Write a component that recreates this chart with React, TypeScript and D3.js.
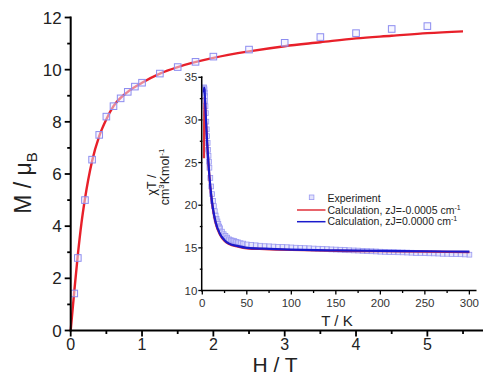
import React from 'react';
import * as d3 from 'd3';

// main plot: magnetization vs field
const fieldExp = [0.05, 0.1, 0.2, 0.3, 0.4, 0.5, 0.6, 0.7, 0.8, 0.9, 1.0, 1.25, 1.5, 1.75, 2.0, 2.5, 3.0, 3.5, 4.0, 4.5, 5.0];
const magExp = [1.42, 2.78, 5.0, 6.55, 7.5, 8.2, 8.6, 8.9, 9.15, 9.35, 9.5, 9.85, 10.1, 10.3, 10.5, 10.77, 11.03, 11.25, 11.4, 11.56, 11.67];
const fieldCalc = [0, 0.05, 0.1, 0.15, 0.2, 0.3, 0.4, 0.5, 0.6, 0.8, 1.0, 1.25, 1.5, 2.0, 2.5, 3.0, 3.5, 4.0, 4.5, 5.0, 5.5];
const magCalc = [0, 1.5, 2.9, 4.1, 5.05, 6.5, 7.45, 8.1, 8.6, 9.15, 9.5, 9.85, 10.1, 10.45, 10.7, 10.9, 11.05, 11.2, 11.3, 11.4, 11.47];
const hTicks = [0, 1, 2, 3, 4, 5];
const mTicks = [0, 2, 4, 6, 8, 10, 12];

// inset: chiT vs T
const tempExp = [1.8, 2, 2.2, 2.5, 2.8, 3, 3.3, 3.6, 4, 4.5, 5, 5.5, 6, 6.5, 7, 7.5, 8, 9, 10, 11, 12, 13, 14, 15, 16, 17, 18, 19, 20,
  22, 24, 26, 28, 30, 32, 34, 36, 38, 40, 43, 46, 50, 55, 60, 65, 70, 75, 80, 85, 90, 95, 100, 105, 110, 115, 120, 125, 130,
  135, 140, 145, 150, 155, 160, 165, 170, 175, 180, 185, 190, 195, 200, 205, 210, 215, 220, 225, 230, 235, 240, 245, 250,
  255, 260, 265, 270, 275, 280, 285, 290, 295, 300];
const chiTExp = [33.5, 33.8, 33.8, 33.6, 33.2, 32.8, 32.2, 31.6, 30.8, 29.8, 28.9, 28.1, 27.3, 26.5, 25.8, 25.1, 24.4, 23.2, 22.2,
  21.3, 20.5, 19.9, 19.3, 18.8, 18.4, 18.1, 17.8, 17.5, 17.3, 16.9, 16.6, 16.4, 16.2, 16.0, 15.9, 15.85, 15.8, 15.7, 15.65,
  15.55, 15.5, 15.4, 15.35, 15.3, 15.25, 15.2, 15.18, 15.15, 15.12, 15.1, 15.08, 15.05, 15.02, 15.0, 14.97, 14.95, 14.92,
  14.9, 14.88, 14.85, 14.82, 14.8, 14.78, 14.75, 14.72, 14.7, 14.68, 14.65, 14.62, 14.6, 14.58, 14.55, 14.53, 14.5, 14.5,
  14.48, 14.47, 14.45, 14.43, 14.4, 14.4, 14.38, 14.36, 14.35, 14.33, 14.3, 14.3, 14.28, 14.27, 14.25, 14.23, 14.2];
const tempCalc = [1.8, 2, 2.5, 3, 4, 5, 6, 7, 8, 10, 12, 15, 20, 25, 30, 40, 50, 70, 100, 150, 200, 250, 300];
const chiTCalcA = [25.5, 28.8, 32.8, 32.3, 30.2, 28.1, 26.3, 24.7, 23.3, 21.1, 19.5, 17.9, 16.5, 15.8, 15.45, 15.15, 14.95, 14.85, 14.75, 14.65, 14.6, 14.55, 14.5];
const chiTCalcB = [33.2, 33.8, 33.6, 32.5, 30.3, 28.2, 26.4, 24.8, 23.4, 21.2, 19.6, 18.0, 16.6, 15.9, 15.5, 15.2, 15.0, 14.9, 14.8, 14.7, 14.65, 14.6, 14.55];
const tTicks = [0, 50, 100, 150, 200, 250, 300];
const chiTicks = [10, 15, 20, 25, 30, 35];

const FONT = 'Liberation Sans, Arial, sans-serif';

export default function App() {
  const W = 484, H = 377;
  // main scales
  const x = d3.scaleLinear().domain([0, 5.78]).range([70.7, 483]);
  const y = d3.scaleLinear().domain([0, 12]).range([330.5, 17.5]);
  // inset scales
  const ix = d3.scaleLinear().domain([0, 308]).range([202.3, 476.5]);
  const iy = d3.scaleLinear().domain([10, 35]).range([290.5, 77.3]);

  const mainLine = d3.line<number>()
    .x((d, i) => x(fieldCalc[i]))
    .y(d => y(d))
    .curve(d3.curveMonotoneX);
  const insetLine = d3.line<number>()
    .x((d, i) => ix(tempCalc[i]))
    .y(d => iy(d))
    .curve(d3.curveMonotoneX);

  const x0 = x(0), y0 = y(0);
  const ix0 = ix(0), iy0 = iy(10);

  return (
    <div style={{ position: 'absolute', left: 0, top: 0 }}>
      <svg width={W} height={H} style={{ display: 'block', background: '#fff' }} fontFamily={FONT}>
        {/* main curve and points */}
        <path d={mainLine(magCalc) || ''} fill="none" stroke="#e8202a" strokeWidth={2.4} />
        {fieldExp.map((h, i) => (
          <rect key={'me' + i} x={x(h) - 3.3} y={y(magExp[i]) - 3.3} width={6.6} height={6.6}
            fill="#eeeeff" fillOpacity={0.5} stroke="#8c8cf0" strokeWidth={1} />
        ))}

        {/* main axes */}
        <line x1={x0} x2={x0} y1={y(12) - 1} y2={y0 + 1} stroke="#000" strokeWidth={2} />
        <line x1={x0 - 1} x2={483} y1={y0} y2={y0} stroke="#000" strokeWidth={2} />
        {d3.range(0, 12.01, 1).map(v => (
          <line key={'my' + v} x1={x0 - (v % 2 === 0 ? 6 : 3.5)} x2={x0} y1={y(v)} y2={y(v)} stroke="#000" strokeWidth={1.8} />
        ))}
        {d3.range(0, 5.51, 0.5).map(v => (
          <line key={'mx' + v} x1={x(v)} x2={x(v)} y1={y0} y2={y0 + (Number.isInteger(v) ? 6 : 3.5)} stroke="#000" strokeWidth={1.8} />
        ))}
        {mTicks.map(v => (
          <text key={'ml' + v} x={x0 - 9} y={y(v) + 6} textAnchor="end" fontSize={17} fill="#222">{v}</text>
        ))}
        {hTicks.map(v => (
          <text key={'hl' + v} x={x(v)} y={350} textAnchor="middle" fontSize={16} fill="#222">{v}</text>
        ))}
        <text x={275} y={372} textAnchor="middle" fontSize={21} fill="#222">H / T</text>
        <text transform="translate(31,183) rotate(-90)" textAnchor="middle" fontSize={23} fill="#222">
          M / μ<tspan fontSize={15} dy={6}>B</tspan>
        </text>

        {/* inset */}
        {tempExp.map((t, i) => (
          <rect key={'ie' + i} x={ix(t) - 2.4} y={iy(chiTExp[i]) - 2.4} width={4.8} height={4.8}
            fill="#c8c8f8" fillOpacity={0.45} stroke="#9a9af2" strokeWidth={0.8} />
        ))}
        <path d={insetLine(chiTCalcA) || ''} fill="none" stroke="#e0303a" strokeWidth={2.2} />
        <path d={insetLine(chiTCalcB) || ''} fill="none" stroke="#1a1acc" strokeWidth={2.2} />

        <line x1={ix0 - 0.6} x2={ix0 - 0.6} y1={iy(35) - 1} y2={iy0 + 1} stroke="#000" strokeWidth={1.5} />
        <line x1={ix0 - 1} x2={476.5} y1={iy0} y2={iy0} stroke="#000" strokeWidth={1.5} />
        {d3.range(10, 35.01, 2.5).map(v => (
          <line key={'iy' + v} x1={ix0 - (v % 5 === 0 ? 4 : 2.5)} x2={ix0} y1={iy(v)} y2={iy(v)} stroke="#000" strokeWidth={1.3} />
        ))}
        {d3.range(0, 300.1, 25).map(v => (
          <line key={'ix' + v} x1={ix(v)} x2={ix(v)} y1={iy0} y2={iy0 + (v % 50 === 0 ? 4 : 2.5)} stroke="#000" strokeWidth={1.3} />
        ))}
        {chiTicks.map(v => (
          <text key={'il' + v} x={ix0 - 5} y={iy(v) + 4} textAnchor="end" fontSize={11.5} fill="#333">{v}</text>
        ))}
        {tTicks.map(v => (
          <text key={'tl' + v} x={ix(v)} y={307} textAnchor="middle" fontSize={11.5} fill="#333">{v}</text>
        ))}
        <text x={337} y={326} textAnchor="middle" fontSize={15} fill="#222">T / K</text>
        <text transform="translate(156,185) rotate(-90)" textAnchor="middle" fontSize={12.5} fill="#222">χT /</text>
        <text transform="translate(169,177) rotate(-90)" textAnchor="middle" fontSize={12.5} fill="#222">
          cm<tspan fontSize={8} dy={-5}>3</tspan><tspan dy={5}>Kmol</tspan><tspan fontSize={8} dy={-5}>-1</tspan>
        </text>

        {/* inset legend */}
        <rect x={309.3} y={195} width={4.6} height={4.6} fill="#c8c8f8" fillOpacity={0.5} stroke="#9a9af2" strokeWidth={0.8} />
        <text x={327.5} y={201.5} fontSize={10.5} fill="#222">Experiment</text>
        <line x1={297} x2={325.5} y1={210} y2={210} stroke="#e0303a" strokeWidth={1.5} />
        <text x={327.5} y={213.5} fontSize={10.5} fill="#222">
          Calculation, zJ=-0.0005 cm<tspan fontSize={7} dy={-4}>-1</tspan>
        </text>
        <line x1={297} x2={325.5} y1={221.7} y2={221.7} stroke="#1a1acc" strokeWidth={1.5} />
        <text x={327.5} y={225.2} fontSize={10.5} fill="#222">
          Calculation, zJ=0.0000 cm<tspan fontSize={7} dy={-4}>-1</tspan>
        </text>
      </svg>
    </div>
  );
}
